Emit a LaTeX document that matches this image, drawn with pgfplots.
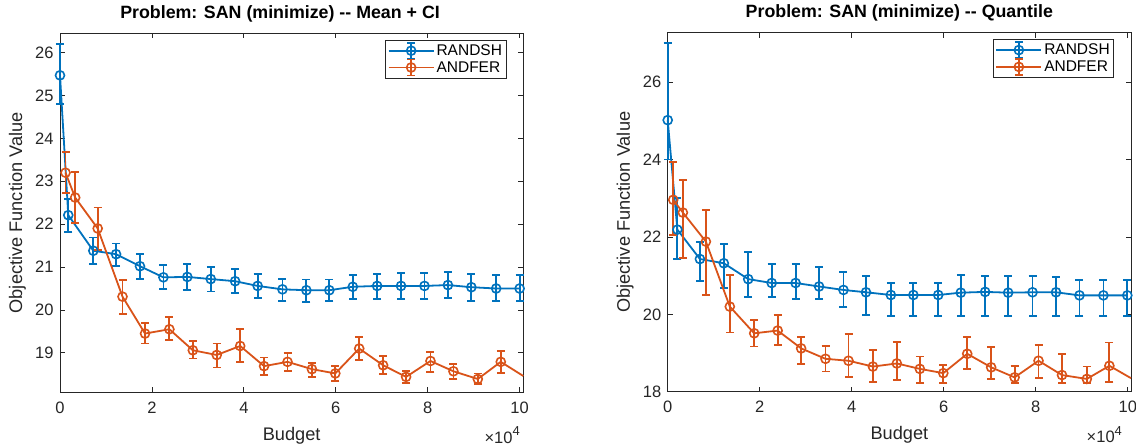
\documentclass[border=0pt]{standalone}
\usepackage{fontspec}
\setmainfont{Liberation Sans}
\usepackage{pgfplots}
\pgfplotsset{compat=1.18}
\usepackage{pgfplotstable}
\definecolor{mblue}{RGB}{0,114,189}
\definecolor{morange}{RGB}{217,83,25}
\definecolor{axgray}{RGB}{38,38,38}

% Mean + CI (x in units of 1e4)
\pgfplotstableread{
x y ep em
0 25.47 0.73 0.67
0.18 22.21 0.37 0.39
0.725 21.38 0.31 0.30
1.22 21.30 0.25 0.28
1.74 21.02 0.28 0.30
2.25 20.76 0.29 0.28
2.77 20.77 0.31 0.30
3.28 20.72 0.28 0.29
3.81 20.67 0.28 0.27
4.30 20.56 0.28 0.29
4.84 20.48 0.25 0.27
5.36 20.46 0.25 0.27
5.86 20.46 0.25 0.26
6.37 20.54 0.27 0.28
6.90 20.56 0.28 0.31
7.42 20.56 0.31 0.31
7.93 20.56 0.30 0.30
8.44 20.58 0.30 0.30
8.95 20.53 0.31 0.32
9.49 20.50 0.31 0.29
10.0 20.50 0.31 0.29
}\meanA
\pgfplotstableread{
x y ep em
0.12 23.20 0.48 0.48
0.33 22.62 0.60 0.59
0.82 21.90 0.49 0.50
1.36 20.31 0.39 0.41
1.85 19.45 0.24 0.23
2.38 19.55 0.29 0.25
2.89 19.06 0.21 0.19
3.41 18.95 0.27 0.29
3.92 19.16 0.40 0.38
4.44 18.69 0.20 0.21
4.95 18.79 0.21 0.22
5.48 18.62 0.15 0.18
5.99 18.52 0.17 0.17
6.51 19.10 0.27 0.27
7.03 18.71 0.21 0.21
7.53 18.44 0.14 0.15
8.06 18.81 0.21 0.25
8.56 18.57 0.17 0.18
9.09 18.39 0.13 0.12
9.59 18.79 0.26 0.26
}\meanB
% Quantile
\pgfplotstableread{
x y ep em
0 25.02 2.00 1.02
0.21 22.19 0.81 0.76
0.70 21.43 0.43 0.56
1.22 21.32 0.50 0.64
1.75 20.91 0.71 0.47
2.26 20.81 0.49 0.37
2.78 20.81 0.49 0.41
3.29 20.72 0.50 0.32
3.82 20.63 0.46 0.45
4.31 20.57 0.43 0.58
4.85 20.50 0.32 0.54
5.34 20.50 0.32 0.54
5.88 20.50 0.32 0.54
6.37 20.56 0.46 0.60
6.90 20.58 0.42 0.62
7.40 20.56 0.44 0.60
7.93 20.57 0.43 0.61
8.44 20.57 0.39 0.61
8.95 20.49 0.40 0.53
9.47 20.49 0.40 0.53
9.99 20.49 0.40 0.53
}\quantA
\pgfplotstableread{
x y ep em
0.12 22.96 0.97 0.90
0.33 22.63 0.85 1.18
0.83 21.88 0.81 1.38
1.35 20.20 0.82 0.67
1.88 19.51 0.35 0.34
2.39 19.58 0.41 0.37
2.90 19.12 0.29 0.40
3.43 18.85 0.33 0.33
3.93 18.80 0.69 0.43
4.46 18.65 0.43 0.39
4.98 18.73 0.55 0.43
5.48 18.59 0.32 0.36
5.99 18.48 0.21 0.25
6.51 18.98 0.44 0.40
7.03 18.63 0.52 0.31
7.54 18.37 0.30 0.15
8.06 18.80 0.41 0.45
8.57 18.43 0.55 0.21
9.11 18.33 0.32 0.11
9.60 18.67 0.60 0.41
}\quantB

\newcommand{\expnote}{\fontsize{16.5bp}{18bp}\selectfont
  ×10\raisebox{0.45em}{\fontsize{13bp}{14bp}\selectfont 4}}

\pgfplotsset{
  matstyle/.style={
    scale only axis, width=463.3bp, height=359bp,
    clip=false,
    axis line style={axgray, line width=0.8bp},
    tick align=inside, tick pos=both,
    major tick length=5bp,
    tick style={axgray, line width=0.8bp},
    tick label style={font=\fontsize{16.5bp}{18bp}\selectfont, text=axgray},
    /pgf/number format/assume math mode=true,
    xticklabel style={yshift=-6bp},
    yticklabel style={xshift=-3bp},
    every axis x label/.style={at={(axis description cs:0.5,-0.1198)}, anchor=center},
    every axis y label/.style={at={(axis description cs:-0.0917,0.5)}, rotate=90, anchor=center},
    label style={font=\fontsize{18.2bp}{20bp}\selectfont, text=axgray},
    every axis title/.style={font=\fontsize{17.8bp}{20bp}\selectfont\bfseries, anchor=center},
    xtick={0,2,...,10}, xmin=0,
    xlabel={Budget}, ylabel={Objective Function Value},
    legend style={at={(1,1)}, anchor=north east, xshift=-17bp, yshift=-6.7bp,
      draw=axgray, line width=0.6bp, font=\fontsize{15.5bp}{17bp}\selectfont,
      inner xsep=2bp, inner ysep=1.5bp, row sep=-1bp,
      nodes={inner xsep=2bp, inner ysep=2.5bp}},
    legend cell align=left,
    legend image code/.code={
      \draw[##1, mark=none] (0bp,0bp) -- (45bp,0bp);
      \draw[##1, mark=none] (22.5bp,-8bp) -- (22.5bp,8bp) (18.5bp,-8bp) -- (26.5bp,-8bp) (18.5bp,8bp) -- (26.5bp,8bp);
      \draw[##1] plot coordinates {(22.5bp,0bp)};
    },
  },
  ser/.style={color=#1, line width=1.8bp, mark=o, mark size=4.5bp,
    mark options={line width=1.6bp, solid},
    error bars/y dir=both, error bars/y explicit,
    error bars/error mark=|,
    error bars/error bar style={line width=1.8bp, color=#1},
    error bars/error mark options={mark size=4bp, line width=1.8bp, color=#1}},
  tail/.style={color=#1, line width=1.8bp, mark=none, forget plot},
}

\begin{document}
\begin{tikzpicture}
\path[use as bounding box] (0,0) rectangle (1136bp,446bp);
\begin{axis}[matstyle, at={(60bp,53.7bp)}, anchor=south west,
  xmax=10.08, ymin=18.08, ymax=26.45, ytick={19,20,...,26},
  title={Problem: SAN (minimize) -{}- Mean + CI},
  title style={at={(axis description cs:0.475,1.0538)}}]
  \addplot[ser=mblue] table[x=x, y=y, y error plus=ep, y error minus=em] {\meanA};
  \addlegendentry{RANDSH}
  \addplot[ser=morange] table[x=x, y=y, y error plus=ep, y error minus=em] {\meanB};
  \addlegendentry{ANDFER}
  % line continues to the next (off-axis) sample
  \addplot[tail=morange] coordinates {(9.59,18.79) (10.08,18.46)};
  \node[anchor=east, text=axgray] at (axis description cs:1,-0.1198) {\expnote};
\end{axis}
\begin{axis}[matstyle, at={(667.7bp,54.3bp)}, anchor=south west,
  xmax=10.07, ymin=18, ymax=27.28, ytick={18,20,...,26},
  title={Problem: SAN (minimize) -{}- Quantile},
  title style={at={(axis description cs:0.5,1.0538)}}]
  \addplot[ser=mblue] table[x=x, y=y, y error plus=ep, y error minus=em] {\quantA};
  \addlegendentry{RANDSH}
  \addplot[ser=morange] table[x=x, y=y, y error plus=ep, y error minus=em] {\quantB};
  \addlegendentry{ANDFER}
  \addplot[tail=morange] coordinates {(9.60,18.67) (10.07,18.35)};
  \node[anchor=east, text=axgray] at (axis description cs:0.988,-0.1198) {\expnote};
\end{axis}
\end{tikzpicture}
\end{document}
